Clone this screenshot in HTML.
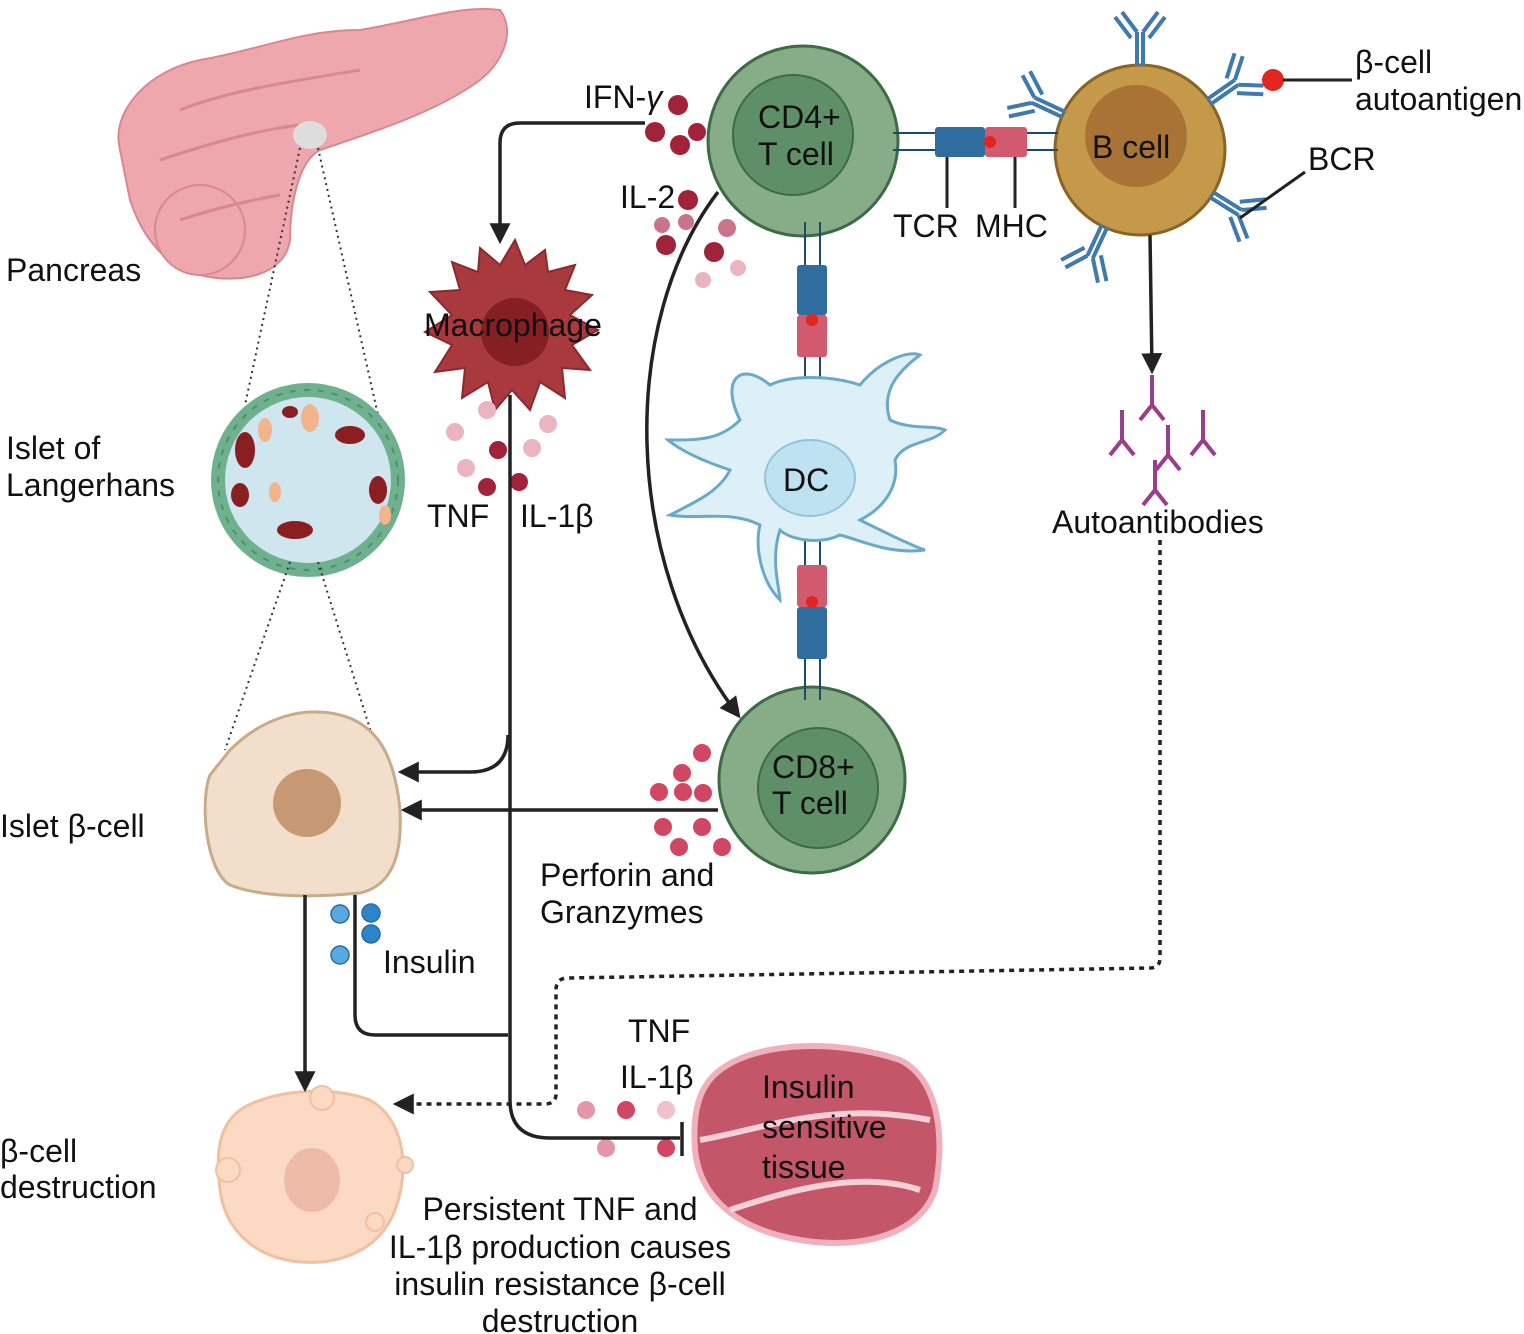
<!DOCTYPE html>
<html><head><meta charset="utf-8"><style>
body{margin:0;background:#fff}
svg{display:block}
text{font-family:"Liberation Sans",sans-serif;font-size:32px;fill:#111}
</style></head><body>
<svg width="1524" height="1334" viewBox="0 0 1524 1334" xmlns="http://www.w3.org/2000/svg">
<defs>
<marker id="ar" viewBox="0 0 10 10" refX="8" refY="5" markerWidth="6" markerHeight="6" orient="auto"><path d="M0,0L10,5L0,10z" fill="#222"/></marker>
<g id="ab" stroke="#3f79ad" stroke-width="4" fill="none">
<path d="M-3,-84 V-118 M3,-84 V-118 M-3,-118 L-18,-138 M3,-118 L18,-138 M-9,-112 L-25,-133 M9,-112 L25,-133"/>
</g>
</defs>

<!-- Pancreas -->
<path d="M120,150 C110,110 150,70 200,60 C260,50 300,30 360,30 C420,20 460,5 500,10 C515,30 505,60 480,80 C440,110 380,130 320,150 C300,160 290,200 290,240 C285,275 240,285 200,275 C160,265 140,230 130,200 Z" fill="#eea7ad" stroke="#d98890" stroke-width="2"/>
<circle cx="200" cy="230" r="45" fill="#eea7ad" stroke="#d98890" stroke-width="2"/>
<path d="M180,110 C230,90 300,80 360,70 M160,160 C220,140 260,130 300,125 M180,220 C210,210 250,200 280,195" stroke="#d98890" stroke-width="3" fill="none"/>
<ellipse cx="310" cy="135" rx="17" ry="14" fill="#ddd"/>
<path d="M300,148 L245,405 M318,148 L378,415" stroke="#333" stroke-width="2" stroke-dasharray="2,4" fill="none"/>

<!-- Islet -->
<circle cx="308" cy="480" r="90" fill="#cfe6ef" stroke="#6fb08e" stroke-width="14"/>
<circle cx="308" cy="480" r="90" fill="none" stroke="#4f8f6e" stroke-width="2" stroke-dasharray="6,8"/>
<g fill="#8a1f22">
<ellipse cx="245" cy="450" rx="10" ry="18"/><ellipse cx="350" cy="435" rx="15" ry="9"/><ellipse cx="378" cy="490" rx="9" ry="14"/><ellipse cx="295" cy="530" rx="18" ry="9"/><ellipse cx="240" cy="495" rx="9" ry="12"/><ellipse cx="290" cy="412" rx="8" ry="6"/></g>
<g fill="#f2b48a"><ellipse cx="265" cy="430" rx="7" ry="12"/><ellipse cx="310" cy="418" rx="9" ry="14"/><ellipse cx="275" cy="492" rx="6" ry="10"/><ellipse cx="385" cy="515" rx="6" ry="10"/></g>
<path d="M290,562 L225,750 M318,562 L375,745" stroke="#333" stroke-width="2" stroke-dasharray="2,4" fill="none"/>

<!-- Beta cell -->
<path d="M230,750 C260,720 300,705 340,715 C380,725 395,760 400,810 C402,850 395,885 360,893 C310,898 260,897 230,885 C205,870 200,800 210,775 Z" fill="#f1dfcb" stroke="#c9ab8a" stroke-width="3"/>
<circle cx="307" cy="803" r="34" fill="#c79874"/>

<!-- destroyed cell -->
<path d="M240,1110 C270,1090 330,1085 370,1100 C405,1120 410,1170 395,1210 C380,1250 340,1265 300,1262 C255,1258 225,1230 220,1190 C215,1150 220,1125 240,1110 Z" fill="#fbd9c3" stroke="#f0c0a0" stroke-width="3"/>
<ellipse cx="312" cy="1180" rx="28" ry="32" fill="#eebba8"/>
<circle cx="322" cy="1098" r="12" fill="#fbd9c3" stroke="#f0c0a0" stroke-width="2"/>
<circle cx="228" cy="1170" r="12" fill="#fbd9c3" stroke="#f0c0a0" stroke-width="2"/>
<circle cx="405" cy="1165" r="8" fill="#fbd9c3" stroke="#f0c0a0" stroke-width="2"/>
<circle cx="375" cy="1222" r="9" fill="#fbd9c3" stroke="#f0c0a0" stroke-width="2"/>

<!-- CD4 T cell -->
<circle cx="803" cy="141" r="95" fill="#86ad87" stroke="#3d6b45" stroke-width="3"/>
<circle cx="793" cy="135" r="60" fill="#5f8f66" stroke="#3d6b45" stroke-width="2"/>
<!-- CD8 -->
<circle cx="812" cy="780" r="93" fill="#86ad87" stroke="#3d6b45" stroke-width="3"/>
<circle cx="818" cy="788" r="60" fill="#5f8f66" stroke="#3d6b45" stroke-width="2"/>

<!-- B cell -->
<circle cx="1140" cy="150" r="85" fill="#c49a4a" stroke="#8a6425" stroke-width="3"/>
<circle cx="1136" cy="136" r="51" fill="#a87335"/>

<use href="#ab" transform="translate(1140,150)"/>
<use href="#ab" transform="translate(1140,150) rotate(-65)"/>
<use href="#ab" transform="translate(1140,150) rotate(55)"/>
<use href="#ab" transform="translate(1140,150) rotate(122)"/>
<use href="#ab" transform="translate(1140,150) rotate(-155)"/>
<circle cx="1273" cy="80" r="11" fill="#e0261e"/>
<path d="M1283,80 H1352" stroke="#222" stroke-width="3"/>
<path d="M1240,218 L1305,172" stroke="#222" stroke-width="3"/>

<!-- TCR-MHC CD4-B -->
<path d="M893,133 H1058 M893,150 H1058" stroke="#1c4a6e" stroke-width="2"/>
<rect x="935" y="127" width="50" height="30" rx="3" fill="#2e6d9e"/>
<rect x="985" y="127" width="42" height="30" rx="3" fill="#d25a6e"/>
<circle cx="990" cy="142" r="6" fill="#e0261e"/>
<path d="M947,157 V208 M1015,157 V208" stroke="#222" stroke-width="3"/>

<!-- vertical TCR-MHC -->
<path d="M805,222 V390 M820,222 V390 M805,532 V700 M820,532 V700" stroke="#1c4a6e" stroke-width="2"/>
<rect x="797" y="265" width="30" height="50" rx="3" fill="#2e6d9e"/>
<rect x="797" y="315" width="30" height="42" rx="3" fill="#d25a6e"/>
<circle cx="812" cy="320" r="6" fill="#e0261e"/>
<rect x="797" y="565" width="30" height="42" rx="3" fill="#d25a6e"/>
<rect x="797" y="607" width="30" height="52" rx="3" fill="#2e6d9e"/>
<circle cx="812" cy="602" r="6" fill="#e0261e"/>

<!-- DC -->
<path d="M740,420 C720,380 740,360 770,385 C790,375 830,375 860,385 C880,360 910,350 920,355 C900,370 880,390 890,420 C910,430 935,425 945,430 C930,445 905,440 895,460 C900,490 880,510 860,520 C880,530 910,545 925,550 C890,555 860,540 840,535 C820,545 790,540 780,530 C770,560 780,590 780,600 C760,580 755,545 760,525 C730,510 700,520 670,515 C700,500 720,490 730,470 C700,460 680,450 668,440 C700,440 720,440 740,420 Z" fill="#ddf0f7" stroke="#6aaac8" stroke-width="3"/>
<ellipse cx="810" cy="478" rx="45" ry="38" fill="#bfe2f0" stroke="#8fc5db" stroke-width="2"/>

<!-- Macrophage -->
<path d="M515,240 L525,265 L545,250 L548,272 L575,265 L565,290 L592,295 L570,315 L598,330 L572,345 L590,370 L562,368 L565,398 L540,382 L530,410 L512,390 L495,410 L488,382 L462,398 L465,368 L435,372 L452,345 L425,332 L452,315 L430,292 L460,290 L452,262 L478,272 L480,248 L500,265 Z" fill="#a83a3e" stroke="#8a2a2e" stroke-width="2"/>
<circle cx="515" cy="332" r="34" fill="#861f24"/>

<!-- muscle -->
<path d="M720,1070 C760,1040 840,1040 900,1060 C940,1080 945,1140 935,1190 C920,1235 860,1250 800,1240 C740,1230 700,1200 695,1150 C692,1110 700,1085 720,1070 Z" fill="#c4566a" stroke="#f0b0bc" stroke-width="6"/>
<path d="M700,1140 C760,1130 830,1100 930,1120 M730,1210 C790,1190 860,1170 920,1190" stroke="#f5d0d6" stroke-width="6" fill="none"/>

<!-- Autoantibodies -->
<g stroke="#9b3d8f" stroke-width="4" fill="none">
<path d="M1152,375 V405 L1140,420 M1152,405 L1164,420"/>
<path d="M1122,410 V440 L1110,455 M1122,440 L1134,455"/>
<path d="M1168,425 V455 L1156,470 M1168,455 L1180,470"/>
<path d="M1203,410 V440 L1191,455 M1203,440 L1215,455"/>
<path d="M1155,460 V490 L1143,505 M1155,490 L1167,505"/>
</g>

<!-- cytokine dots -->
<g fill="#a0233a">
<circle cx="678" cy="105" r="10"/><circle cx="655" cy="132" r="10"/><circle cx="680" cy="145" r="10"/><circle cx="697" cy="132" r="9"/>
<circle cx="688" cy="200" r="10"/><circle cx="714" cy="252" r="10"/><circle cx="666" cy="245" r="10"/>
<circle cx="498" cy="450" r="9"/><circle cx="487" cy="487" r="9"/><circle cx="519" cy="482" r="9"/>
</g>
<g fill="#c9748a"><circle cx="662" cy="225" r="8"/><circle cx="686" cy="222" r="8"/><circle cx="727" cy="228" r="9"/></g>
<g fill="#eab4c0"><circle cx="703" cy="280" r="8"/><circle cx="738" cy="268" r="8"/><circle cx="487" cy="410" r="9"/><circle cx="548" cy="424" r="9"/><circle cx="455" cy="432" r="9"/><circle cx="532" cy="448" r="9"/><circle cx="466" cy="468" r="9"/></g>
<g fill="#d14763">
<circle cx="702" cy="753" r="9"/><circle cx="682" cy="773" r="9"/><circle cx="659" cy="792" r="9"/><circle cx="683" cy="792" r="9"/><circle cx="703" cy="793" r="9"/><circle cx="663" cy="827" r="9"/><circle cx="702" cy="827" r="9"/><circle cx="679" cy="847" r="9"/><circle cx="722" cy="847" r="9"/>
<circle cx="586" cy="1110" r="9" fill="#e595a8"/><circle cx="626" cy="1110" r="9"/><circle cx="666" cy="1110" r="9" fill="#f0c0cb"/><circle cx="606" cy="1148" r="9" fill="#e595a8"/><circle cx="666" cy="1148" r="9"/>
</g>
<g fill="#5aa8e0" stroke="#2a6aa0" stroke-width="1.5"><circle cx="340" cy="914" r="9"/><circle cx="340" cy="955" r="9"/><circle cx="371" cy="913" r="9" fill="#2b85c8"/><circle cx="371" cy="934" r="9" fill="#2b85c8"/></g>

<!-- connectors -->
<g stroke="#222" stroke-width="3.5" fill="none">
<path d="M645,123 H520 Q500,123 500,143 V240" marker-end="url(#ar)"/>
<path d="M718,192 C620,320 620,560 738,715" marker-end="url(#ar)"/>
<path d="M510,395 V1100 Q510,1138 550,1138 H680"/>
<path d="M682,1122 V1156"/>
<path d="M508,735 Q508,772 470,772 H402" marker-end="url(#ar)"/>
<path d="M718,810 H405" marker-end="url(#ar)"/>
<path d="M355,895 V1015 Q355,1035 375,1035 H508"/>
<path d="M305,895 V1088" marker-end="url(#ar)"/>
<path d="M1150,235 L1152,370" marker-end="url(#ar)"/>
</g>
<path d="M1160,540 V958 Q1160,968 1150,968 L568,978 Q556,978 556,990 V1094 Q556,1104 545,1104 H397" stroke="#222" stroke-width="3.5" stroke-dasharray="5,5" fill="none" marker-end="url(#ar)"/>

<!-- labels -->
<text x="6" y="281">Pancreas</text>
<text x="6" y="459">Islet of</text>
<text x="6" y="496">Langerhans</text>
<text x="0" y="837">Islet β-cell</text>
<text x="0" y="1162">β-cell</text>
<text x="0" y="1198">destruction</text>
<text x="584" y="108">IFN-<tspan font-style="italic">γ</tspan></text>
<text x="620" y="208">IL-2</text>
<text x="758" y="128">CD4+</text>
<text x="758" y="165">T cell</text>
<text x="772" y="778">CD8+</text>
<text x="772" y="814">T cell</text>
<text x="1092" y="158">B cell</text>
<text x="1355" y="73">β-cell</text>
<text x="1355" y="110">autoantigen</text>
<text x="1308" y="170">BCR</text>
<text x="893" y="237">TCR</text>
<text x="975" y="237">MHC</text>
<text x="424" y="336">Macrophage</text>
<text x="783" y="491">DC</text>
<text x="427" y="527">TNF</text>
<text x="520" y="527">IL-1β</text>
<text x="1052" y="533">Autoantibodies</text>
<text x="540" y="886">Perforin and</text>
<text x="540" y="923">Granzymes</text>
<text x="383" y="973">Insulin</text>
<text x="628" y="1042">TNF</text>
<text x="620" y="1088">IL-1β</text>
<text x="762" y="1098">Insulin</text>
<text x="762" y="1138">sensitive</text>
<text x="762" y="1178">tissue</text>
<text x="560" y="1220" text-anchor="middle">Persistent TNF and</text>
<text x="560" y="1258" text-anchor="middle">IL-1β production causes</text>
<text x="560" y="1295" text-anchor="middle">insulin resistance β-cell</text>
<text x="560" y="1332" text-anchor="middle">destruction</text>
</svg>
</body></html>
